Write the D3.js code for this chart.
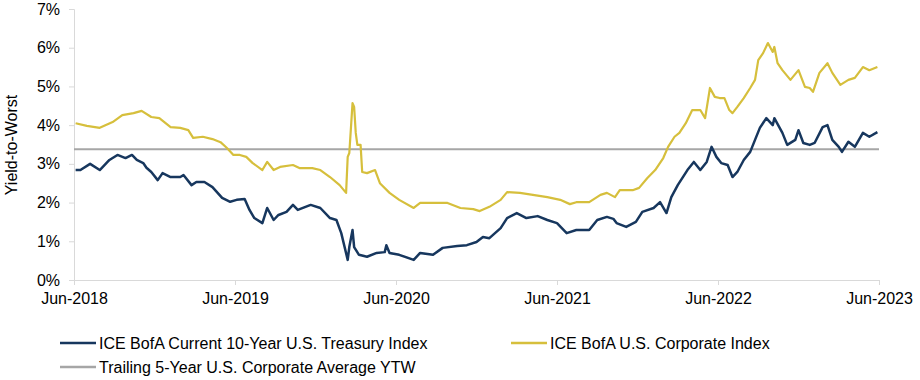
<!DOCTYPE html>
<html><head><meta charset="utf-8">
<script src="https://cdn.jsdelivr.net/npm/d3@7"></script>
<style>
body{margin:0;background:#fff;}
text{font-family:"Liberation Sans",Arial,sans-serif;}
</style></head>
<body><svg id="c" width="920" height="380"></svg>
<script>
// Decimal-year time stamps and yields (%)
const tsyTime = [2018.51,2018.54,2018.60,2018.66,2018.72,2018.77,2018.82,2018.86,2018.89,2018.93,2018.95,2018.98,2019.02,2019.05,2019.10,2019.16,2019.18,2019.23,2019.26,2019.31,2019.36,2019.42,2019.47,2019.51,2019.56,2019.59,2019.62,2019.67,2019.70,2019.74,2019.77,2019.82,2019.86,2019.89,2019.97,2020.03,2020.09,2020.13,2020.16,2020.20,2020.21,2020.23,2020.24,2020.27,2020.32,2020.38,2020.43,2020.44,2020.46,2020.52,2020.61,2020.65,2020.73,2020.79,2020.88,2020.94,2021.00,2021.04,2021.08,2021.15,2021.19,2021.25,2021.31,2021.38,2021.44,2021.50,2021.56,2021.62,2021.70,2021.75,2021.81,2021.85,2021.87,2021.93,2021.99,2022.03,2022.10,2022.14,2022.18,2022.21,2022.25,2022.31,2022.35,2022.39,2022.43,2022.46,2022.49,2022.52,2022.56,2022.59,2022.62,2022.66,2022.70,2022.73,2022.76,2022.80,2022.84,2022.85,2022.90,2022.93,2022.98,2023.00,2023.03,2023.07,2023.10,2023.15,2023.18,2023.21,2023.25,2023.27,2023.31,2023.35,2023.40,2023.44,2023.49];
const tsyYield = [2.84,2.84,3.00,2.84,3.10,3.23,3.15,3.23,3.10,3.02,2.90,2.79,2.58,2.76,2.66,2.66,2.71,2.45,2.53,2.53,2.40,2.12,2.02,2.07,2.09,1.81,1.60,1.47,1.86,1.55,1.68,1.76,1.94,1.81,1.94,1.86,1.60,1.55,1.21,0.52,0.85,1.29,0.85,0.65,0.60,0.70,0.72,0.90,0.70,0.65,0.52,0.70,0.65,0.83,0.88,0.90,0.98,1.11,1.08,1.34,1.60,1.73,1.60,1.65,1.55,1.47,1.21,1.29,1.29,1.55,1.63,1.58,1.47,1.37,1.50,1.76,1.86,2.01,1.73,2.14,2.45,2.84,3.05,2.84,3.05,3.44,3.18,3.02,2.97,2.66,2.79,3.10,3.31,3.62,3.93,4.18,4.00,4.18,3.80,3.49,3.62,3.87,3.54,3.49,3.54,3.95,4.00,3.62,3.44,3.31,3.57,3.44,3.80,3.70,3.82];

const corpTime = [2018.51,2018.58,2018.66,2018.74,2018.80,2018.87,2018.92,2018.98,2019.03,2019.10,2019.16,2019.21,2019.24,2019.30,2019.36,2019.41,2019.45,2019.49,2019.53,2019.57,2019.61,2019.67,2019.70,2019.74,2019.78,2019.86,2019.90,2019.98,2020.03,2020.09,2020.15,2020.19,2020.20,2020.21,2020.23,2020.24,2020.25,2020.26,2020.28,2020.29,2020.32,2020.37,2020.40,2020.46,2020.52,2020.61,2020.65,2020.73,2020.82,2020.90,2020.98,2021.02,2021.08,2021.15,2021.19,2021.27,2021.35,2021.44,2021.52,2021.58,2021.62,2021.70,2021.77,2021.81,2021.86,2021.89,2021.97,2022.01,2022.06,2022.11,2022.16,2022.19,2022.23,2022.26,2022.30,2022.34,2022.39,2022.42,2022.45,2022.48,2022.51,2022.54,2022.57,2022.59,2022.62,2022.66,2022.70,2022.73,2022.75,2022.78,2022.81,2022.84,2022.85,2022.87,2022.90,2022.95,2023.00,2023.04,2023.07,2023.09,2023.13,2023.18,2023.21,2023.26,2023.31,2023.35,2023.40,2023.44,2023.49];
const corpYield = [4.05,3.98,3.93,4.08,4.26,4.31,4.37,4.21,4.18,3.95,3.93,3.87,3.67,3.70,3.64,3.56,3.41,3.23,3.23,3.18,3.02,2.84,3.05,2.84,2.92,2.97,2.89,2.89,2.84,2.66,2.45,2.25,3.18,3.28,4.57,4.47,3.80,3.49,3.49,2.79,2.76,2.84,2.50,2.25,2.07,1.86,1.99,1.99,1.99,1.86,1.83,1.78,1.89,2.07,2.27,2.25,2.20,2.14,2.07,1.96,2.01,2.01,2.20,2.25,2.14,2.32,2.32,2.38,2.63,2.84,3.15,3.44,3.70,3.80,4.05,4.39,4.39,4.18,4.96,4.73,4.70,4.70,4.39,4.31,4.47,4.70,4.96,5.17,5.68,5.86,6.12,5.89,6.02,5.60,5.42,5.17,5.42,4.99,4.96,4.86,5.35,5.60,5.35,5.04,5.17,5.22,5.50,5.42,5.50];

const avgTime = [2018.5, 2023.5];
const avgYield = [3.38, 3.38];

const xTickValues = [2018.5,2019.5,2020.5,2021.5,2022.5,2023.5];
const xTickLabels = ["Jun-2018","Jun-2019","Jun-2020","Jun-2021","Jun-2022","Jun-2023"];
const yTickValues = [0,1,2,3,4,5,6,7];
const seriesNames = ["ICE BofA Current 10-Year U.S. Treasury Index","ICE BofA U.S. Corporate Index","Trailing 5-Year U.S. Corporate Average YTW"];
const yTitle = "Yield-to-Worst";

const svg = d3.select("#c");
const L=74,R=879,T=9,B=280;
const x = d3.scaleLinear().domain([2018.5,2023.5]).range([L,R]);
const y = d3.scaleLinear().domain([0,7]).range([B,T]);
const axisColor="#d9d9d9";

const xa = svg.append("g").attr("transform",`translate(0,${B})`)
  .call(d3.axisBottom(x).tickValues(xTickValues).tickFormat((d,i)=>xTickLabels[i]).tickSize(5).tickPadding(8));
const ya = svg.append("g").attr("transform",`translate(${L},0)`)
  .call(d3.axisLeft(y).tickValues(yTickValues).tickFormat(d=>d+"%").tickSize(5).tickPadding(9));
[xa,ya].forEach(g=>{
  g.selectAll("path,line").attr("stroke",axisColor).attr("stroke-width",1);
  g.selectAll("text").attr("font-size",16).attr("fill","#000").attr("font-family","Liberation Sans, Arial, sans-serif");
});

svg.append("text").attr("transform","translate(17,145) rotate(-90)")
  .attr("text-anchor","middle").attr("font-size",16).text(yTitle);

const line = d3.line().x(d=>x(d[0])).y(d=>y(d[1]));
const colors = ["#17375e","#d6bf3c","#a6a6a6"];
const widths = [2.5,2.2,2];
const series = [d3.zip(tsyTime,tsyYield), d3.zip(corpTime,corpYield), d3.zip(avgTime,avgYield)];
[2,1,0].forEach(i=>{
  svg.append("path").datum(series[i]).attr("d",line).attr("fill","none")
    .attr("stroke",colors[i]).attr("stroke-width",widths[i]).attr("stroke-linejoin","round");
});

// legend
const leg = [{i:0,lx:60,ly:343},{i:1,lx:511,ly:343},{i:2,lx:60,ly:367}];
leg.forEach(o=>{
  svg.append("line").attr("x1",o.lx).attr("x2",o.lx+36).attr("y1",o.ly).attr("y2",o.ly)
    .attr("stroke",colors[o.i]).attr("stroke-width",2.5);
  svg.append("text").attr("x",o.lx+39).attr("y",o.ly+6).attr("font-size",16)
    .text(seriesNames[o.i]);
});
</script></body></html>
